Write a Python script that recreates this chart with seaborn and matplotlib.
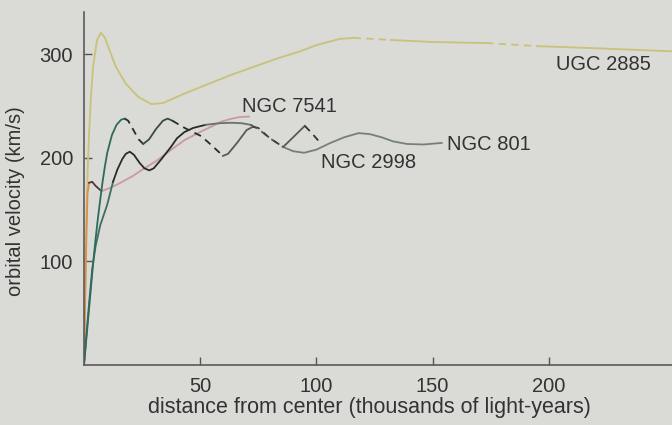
import numpy as np
import pandas as pd
import matplotlib
matplotlib.use('Agg')
import matplotlib.pyplot as plt
import seaborn as sns

# rotation curves (x in thousands of ly, v in km/s)
ugc_x = [0, 0.5, 1, 1.6, 2.2, 3, 3.9, 5.6, 7.3, 9, 11, 13.7, 17.9, 23.3, 29, 34, 43, 53, 63, 73,
         83, 93, 100, 110, 116, 132, 150, 173, 195, 220, 253]
ugc_v = [0, 70, 144, 190, 224, 260, 288, 314, 321, 316, 304, 288, 272, 259, 252, 253, 262, 271, 280, 288,
         296, 303, 309, 315, 316, 314, 312, 311, 308, 306, 303]

n7541_x = [0, 0.5, 1, 1.5, 2.2, 3.5, 5, 7.5, 10, 14, 20.6, 26, 31.7, 37, 43.1, 49, 54.5, 59, 63.6, 67, 71]
n7541_v = [0, 60, 120, 165, 176, 177, 173, 168, 170, 174, 182, 190, 198, 207, 217, 224, 230, 235, 238, 239.5, 240]

n2998_x = [0, 1, 2, 3, 4, 5, 6, 7, 8, 9, 10, 12, 14, 16, 17.5, 19, 21, 23.5, 25.5, 28, 31, 34, 36, 38,
           43.3, 50.5, 55, 59.8, 62, 66, 70, 72.6, 75, 80, 85.7, 90, 95, 98, 101.3]
n2998_v = [0, 25, 50, 75, 100, 122, 142, 160, 177, 192, 205, 222, 232, 237, 238, 236, 228, 218, 213.5, 218, 228, 236, 238, 236,
           229, 221, 212, 202, 204, 215, 227, 230, 229, 219, 210.6, 220, 231, 224, 215.5]

n801_x = [0, 1, 2, 3.5, 5, 7, 10, 12.5, 14.4, 16.5, 18, 19.7, 21.5, 24, 26, 28.1, 30, 33, 37.4, 40, 43.2, 47,
          52.3, 58, 63.5, 68, 71.7, 75, 80, 85.7, 90, 94.7, 100, 106, 112, 118.2, 123, 128, 133, 139, 146, 153.9]
n801_v = [0, 28, 55, 92, 115, 135, 155, 177, 189, 199, 204, 206, 203, 195, 190, 188, 190, 198, 210.6, 219, 225, 229,
          232, 233.5, 234, 233.5, 232, 228, 219, 210.6, 206.5, 205, 208, 214.5, 220, 224, 223, 220, 216, 213.5, 213, 214.5]

galaxy_names = ['UGC 2885', 'NGC 7541', 'NGC 2998', 'NGC 801']

bg = '#dadad6'
ink = '#333333'
dash = (0, (4, 3))

fig = plt.figure(figsize=(6.72, 4.25), dpi=100)
fig.patch.set_facecolor(bg)
ax = fig.add_axes([0.125, 0.1412, 0.875, 0.8306])
ax.set_facecolor(bg)


def draw(x, v, pieces):
    df = pd.DataFrame({'x': x, 'v': v})
    for lo, hi, ls, col in pieces:
        part = df[(df.x >= lo) & (df.x <= hi)]
        sns.lineplot(data=part, x='x', y='v', ax=ax, color=col, lw=1.3,
                     linestyle=ls, estimator=None, sort=False)


ugc_col = '#c9c27a'
draw(ugc_x, ugc_v, [(0, 116, '-', ugc_col), (116, 132, dash, ugc_col),
                    (132, 173, '-', ugc_col), (173, 195, dash, ugc_col),
                    (195, 253, '-', ugc_col)])
draw(n7541_x, n7541_v, [(0, 2.2, '-', '#d8904a'), (2.2, 7.5, '-', '#4a3a36'),
                        (7.5, 71, '-', '#c99aa0')])
draw(n801_x, n801_v, [(0, 12.5, '-', '#3f6d60'), (12.5, 52.3, '-', '#2a2a2a'),
                      (52.3, 71.7, '-', '#6a706c'), (71.7, 85.7, dash, '#555555'),
                      (85.7, 153.9, '-', '#74807a')])
draw(n2998_x, n2998_v, [(0, 17.5, '-', '#2f6b5c'), (17.5, 25.5, dash, '#2a2a2a'),
                        (25.5, 38, '-', '#3a4a44'), (38, 59.8, dash, '#2a2a2a'),
                        (59.8, 72.6, '-', '#555b58'), (72.6, 85.7, dash, '#444444'),
                        (85.7, 95, '-', '#555b58'), (95, 101.3, dash, '#333333')])

font = 'Liberation Sans'
label_pos = [(203, 290), (68, 250), (102, 196), (156, 213)]
for name, (lx, ly) in zip(galaxy_names, label_pos):
    ax.text(lx, ly, name, ha='left', va='center', fontsize=14.5, color=ink, family=font)

ax.set_xlim(0, 253)
ax.set_ylim(0, 341)
ax.set_xticks([50, 100, 150, 200])
ax.set_yticks([100, 200, 300])
ax.tick_params(axis='both', direction='in', length=6, width=1, color='#555555',
               labelsize=14.5, labelcolor=ink)
ax.tick_params(axis='x', pad=9)
ax.tick_params(axis='y', pad=8)
for lab in ax.get_xticklabels() + ax.get_yticklabels():
    lab.set_family(font)

for side in ['top', 'right']:
    ax.spines[side].set_visible(False)
for side in ['left', 'bottom']:
    ax.spines[side].set_color('#5a5a5a')
    ax.spines[side].set_linewidth(1.2)

ax.set_xlabel('distance from center (thousands of light-years)', fontsize=15.5, color=ink, family=font)
ax.set_ylabel('orbital velocity (km/s)', fontsize=14.5, color=ink, family=font)
ax.xaxis.set_label_coords(0.485, -0.09)
ax.yaxis.set_label_coords(-0.1, 0.465)

fig.savefig('out.png', dpi=100, facecolor=bg)
